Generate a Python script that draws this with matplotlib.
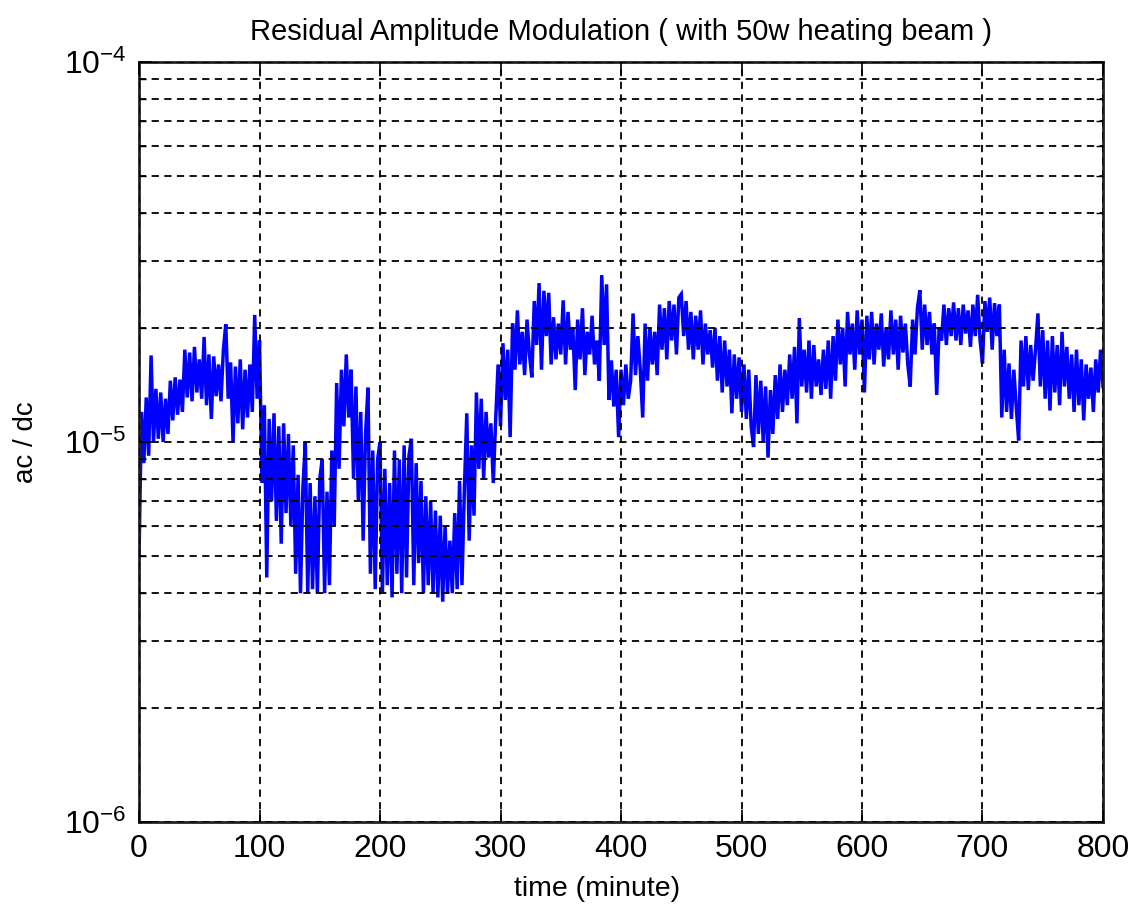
import numpy as np
import matplotlib
matplotlib.use("Agg")
import matplotlib.pyplot as plt
from matplotlib.ticker import LogLocator, NullFormatter

# sample time in minutes (one reading every 2 minutes)
time_min = np.arange(0, 801, 2)

# ac/dc readings, in units of 1e-5
ramp_e5 = [
    0.50, 1.20, 0.88, 1.31, 0.92, 1.69, 1.00, 1.38, 1.02, 1.35,
    1.00, 1.30, 1.05, 1.45, 1.14, 1.48, 1.18, 1.46, 1.20, 1.75,
    1.31, 1.72, 1.28, 1.78, 1.35, 1.65, 1.30, 1.89, 1.25, 1.70,
    1.15, 1.68, 1.32, 1.60, 1.28, 1.75, 2.04, 1.30, 1.62, 1.00,
    1.58, 1.12, 1.65, 1.08, 1.55, 1.16, 1.60, 1.20, 2.16, 1.30,
    1.85, 0.78, 1.25, 0.44, 1.15, 0.70, 1.19, 0.62, 1.10, 0.54,
    1.12, 0.65, 1.05, 0.60, 0.98, 0.45, 0.82, 0.40, 0.76, 1.00,
    0.40, 0.78, 0.41, 0.72, 0.40, 0.80, 0.90, 0.40, 0.74, 0.42,
    0.95, 0.60, 1.43, 0.85, 1.55, 1.10, 1.70, 1.16, 1.55, 0.80,
    1.40, 0.70, 1.20, 0.55, 1.05, 1.39, 0.45, 0.95, 0.41, 0.90,
    1.00, 0.40, 0.85, 0.42, 0.78, 0.39, 0.95, 0.45, 0.90, 0.40,
    0.98, 0.44, 0.92, 1.02, 0.42, 0.88, 0.48, 0.79, 0.40, 0.72,
    0.42, 0.70, 0.40, 0.66, 0.39, 0.64, 0.38, 0.60, 0.40, 0.55,
    0.40, 0.65, 0.41, 0.79, 0.42, 0.75, 1.19, 0.55, 0.98, 0.64,
    1.35, 0.85, 1.30, 0.80, 1.20, 0.91, 1.12, 0.78, 1.15, 1.60,
    1.10, 1.82, 1.29, 1.75, 1.03, 2.05, 1.55, 2.22, 1.60, 1.95,
    1.50, 2.10, 1.70, 1.48, 2.35, 1.80, 2.62, 1.55, 2.50, 1.90,
    2.47, 1.60, 2.13, 1.65, 2.05, 1.70, 2.36, 1.60, 2.20, 1.75,
    2.00, 1.37, 2.10, 1.65, 2.25, 1.50, 1.95, 1.70, 2.15, 1.60,
    1.85, 1.45, 2.75, 1.80, 2.60, 1.29, 1.64, 1.24, 1.55, 1.03,
    1.55, 1.25, 1.60, 1.30, 1.45, 2.18, 1.50, 1.90, 1.55, 1.16,
    2.05, 1.45, 2.00, 1.60, 1.95, 1.50, 2.30, 1.75, 2.25, 1.65,
    2.35, 1.85, 2.30, 1.70, 2.40, 2.45, 1.90, 2.35, 1.75, 2.20,
    1.65, 2.15, 1.75, 2.22, 1.60, 2.05, 1.70, 1.97, 1.57, 2.00,
    1.45, 1.90, 1.35, 1.85, 1.40, 1.75, 1.19, 1.70, 1.30, 1.67,
    1.20, 1.60, 1.15, 1.55, 1.10, 0.97, 1.50, 1.05, 1.45, 1.00,
    1.40, 0.91, 1.37, 1.05, 1.50, 1.15, 1.60, 1.20, 1.55, 1.25,
    1.70, 1.30, 1.78, 1.12, 2.12, 1.40, 1.75, 1.35, 1.85, 1.30,
    1.80, 1.40, 1.65, 1.33, 1.75, 1.38, 1.85, 1.30, 1.90, 1.45,
    2.10, 1.60, 2.00, 1.40, 2.20, 1.70, 2.05, 1.55, 2.22, 1.70,
    2.10, 1.35, 2.15, 1.65, 2.20, 1.60, 2.05, 1.75, 2.18, 1.58,
    2.00, 1.65, 2.22, 1.70, 2.10, 1.55, 2.15, 1.72, 2.05, 1.60,
    1.40, 2.10, 1.70, 2.25, 2.51, 1.75, 2.30, 1.80, 2.20, 1.70,
    2.05, 1.33, 2.00, 1.85, 2.30, 1.80, 2.25, 1.90, 2.33, 1.85,
    2.25, 1.80, 2.30, 1.93, 2.22, 1.78, 2.30, 1.90, 2.44, 1.85,
    1.61, 2.35, 1.95, 2.40, 1.75, 2.32, 1.90, 2.30, 1.16, 1.75,
    1.20, 1.61, 1.15, 1.55, 1.24, 1.01, 1.85, 1.40, 1.90, 1.37,
    1.80, 1.45, 1.75, 2.18, 1.40, 1.97, 1.30, 1.85, 1.21, 1.90,
    1.35, 1.80, 1.25, 1.95, 1.40, 1.78, 1.30, 1.70, 1.20, 1.75,
    1.25, 1.65, 1.14, 1.60, 1.30, 1.57, 1.20, 1.65, 1.35, 1.75,
    1.40,
]

x_ticks = [0, 100, 200, 300, 400, 500, 600, 700, 800]

plt.rcParams['font.family'] = ['Liberation Sans', 'DejaVu Sans']
plt.rcParams['mathtext.fontset'] = 'custom'
plt.rcParams['mathtext.rm'] = 'Liberation Sans'

fig = plt.figure(figsize=(11.35, 9.11), dpi=100)
ax = fig.add_axes([0.1225, 0.0977, 0.8493, 0.8342])

ax.semilogy(time_min, np.array(ramp_e5) * 1e-5, color='#0000ff', lw=2.5,
            solid_joinstyle='miter')

ax.set_xlim(0, 800)
ax.set_ylim(1e-6, 1e-4)
ax.set_xticks(x_ticks)
ax.yaxis.set_major_locator(LogLocator(base=10, numticks=5))
ax.yaxis.set_minor_locator(LogLocator(base=10, subs=np.arange(2, 10), numticks=20))
ax.yaxis.set_minor_formatter(NullFormatter())

ax.grid(True, which='major', color='black', linestyle=(0, (4, 3)), lw=1.3)
ax.grid(True, which='minor', axis='y', color='black', linestyle=(0, (4, 3)), lw=1.3)
ax.set_axisbelow(False)

ax.tick_params(which='both', direction='in', top=True, right=True, labelsize=23, pad=9)
ax.tick_params(which='major', length=9, width=1.2)
ax.tick_params(which='minor', length=5, width=1.0)
for s in ax.spines.values():
    s.set_linewidth(2.0)
    s.set_color('#222222')

ax.set_title('Residual Amplitude Modulation ( with 50w heating beam )', fontsize=21, pad=16)
ax.set_xlabel('time (minute)', fontsize=20.5)
ax.xaxis.set_label_coords(0.475, -0.071)
ax.set_ylabel('ac / dc', fontsize=20, labelpad=18)

plt.savefig('out.png', dpi=100)
